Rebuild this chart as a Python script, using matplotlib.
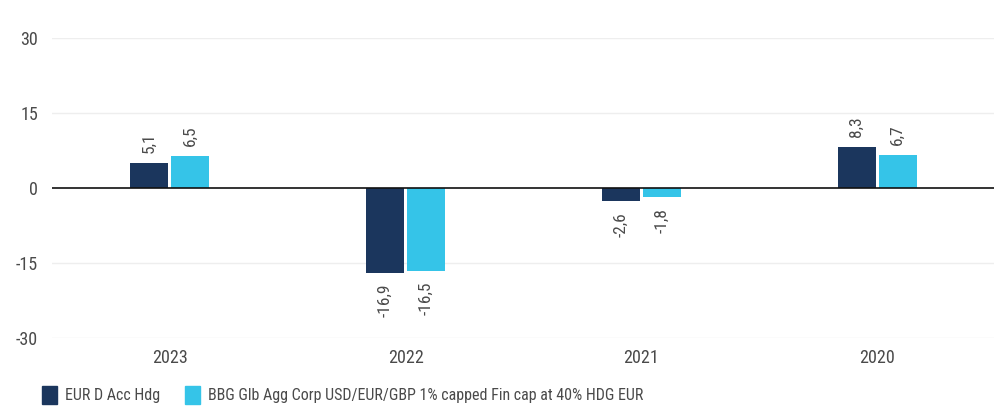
import numpy as np
import matplotlib
matplotlib.use("Agg")
import matplotlib.pyplot as plt
from matplotlib.patches import Patch

plt.rcParams['font.family'] = ['Liberation Sans Narrow', 'Roboto Condensed', 'Roboto', 'DejaVu Sans']

# Data
years = ["2023", "2022", "2021", "2020"]
fund = [5.1, -16.9, -2.6, 8.3]
bench = [6.5, -16.5, -1.8, 6.7]
series_names = ["EUR D Acc Hdg",
                "BBG Glb Agg Corp USD/EUR/GBP 1% capped Fin cap at 40% HDG EUR"]
yticks = [-30, -15, 0, 15, 30]

dark = "#1b365d"
light = "#35c4e8"
text_col = "#4a4a4a"

fig = plt.figure(figsize=(9.95, 4.12), dpi=100)
ax = fig.add_axes([52/995, 1-338/412, 943/995, 300/412])

x = np.arange(len(years))
w = 0.162
off = 0.087
b1 = ax.bar(x - off, fund, w, color=dark, zorder=3)
b2 = ax.bar(x + off, bench, w, color=light, zorder=3)

def fmt(v):
    return ("%.1f" % v).replace(".", ",")

# rotated value labels
for bars, vals in [(b1, fund), (b2, bench)]:
    for rect, v in zip(bars, vals):
        cx = rect.get_x() + rect.get_width()/2
        if v >= 0:
            ax.annotate(fmt(v), (cx, v), xytext=(0, 7), textcoords="offset points",
                        rotation=90, ha="center", va="bottom", fontsize=12.5, color=text_col)
        else:
            ax.annotate(fmt(v), (cx, v), xytext=(0, -8), textcoords="offset points",
                        rotation=90, ha="center", va="top", fontsize=12.5, color=text_col)

ax.set_xlim(-0.5, 3.5)
ax.set_ylim(-30, 30)
ax.set_yticks(yticks)
ax.set_yticklabels([str(t) for t in yticks])
ax.set_xticks(x)
ax.set_xticklabels(years)
ax.tick_params(length=0, labelsize=13, colors=text_col)
ax.tick_params(axis="y", pad=10)
ax.tick_params(axis="x", pad=8)
for t in yticks:
    if t != 0:
        ax.axhline(t, color="#eeeeee", lw=1, zorder=1)
ax.axhline(0, color="#111111", lw=1.2, zorder=4)
for s in ax.spines.values():
    s.set_visible(False)

handles = [Patch(color=dark), Patch(color=light)]
fig.legend(handles, series_names, loc="center left", bbox_to_anchor=(28/995, 17/412),
           ncol=2, frameon=False, fontsize=11.5, handlelength=0.9, handleheight=1.3,
           handletextpad=0.5, columnspacing=1.6, labelcolor=text_col)

fig.savefig("out.png", dpi=100)
